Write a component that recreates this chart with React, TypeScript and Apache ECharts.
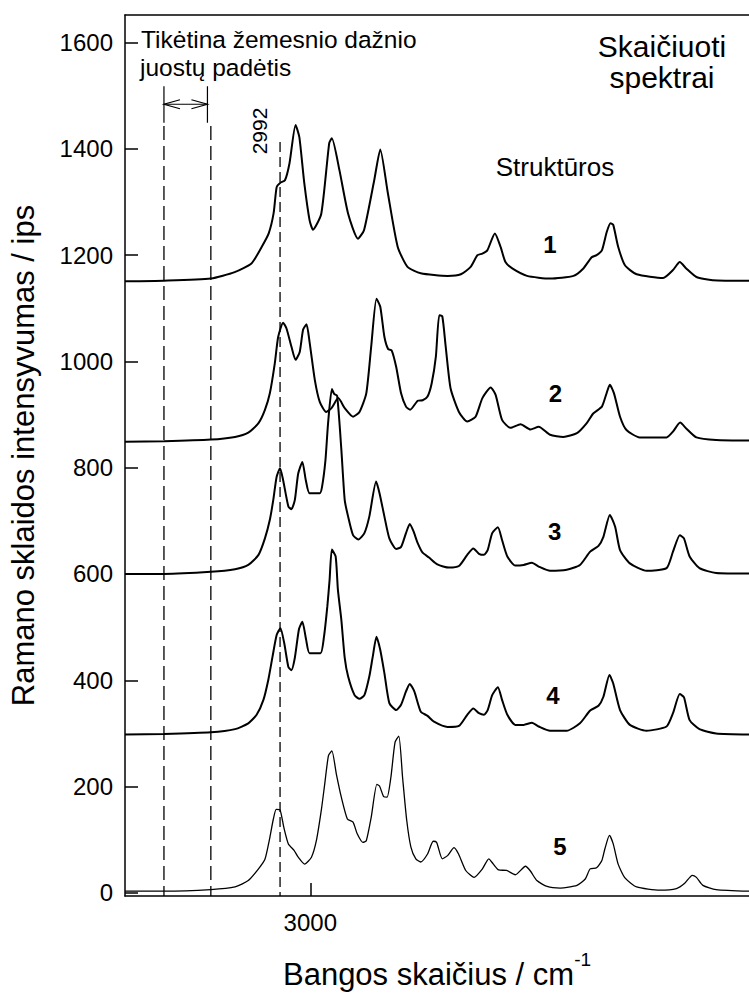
import React, { useEffect, useRef } from "react";
import * as echarts from "echarts";

// Spectra: [wavenumber (cm-1), intensity (ips)]
const spectrum1: [number, number][] = [
  [2951, 1151], [2961.3, 1152], [2973.7, 1156], [2980, 1168], [2984.5, 1185], [2987.1, 1215], [2989, 1241],
  [2990.3, 1279], [2991.1, 1328], [2992, 1336], [2993.3, 1341], [2994.5, 1373], [2996.1, 1445], [2997.1, 1422],
  [2998.4, 1336], [2999.8, 1266], [3000.7, 1248], [3002.9, 1278], [3005, 1411], [3005.7, 1420], [3007.7, 1360],
  [3010, 1278], [3012.6, 1231], [3014.2, 1247], [3016.9, 1341], [3018.5, 1399], [3020.5, 1317], [3023.1, 1216],
  [3025.7, 1178], [3029.2, 1166], [3036.3, 1161], [3039.8, 1164], [3042.4, 1178], [3044.2, 1200], [3045.5, 1203],
  [3046.8, 1209], [3048.8, 1241], [3050.3, 1216], [3051.6, 1187], [3053.4, 1175], [3057.3, 1161], [3063.4, 1156],
  [3069.6, 1161], [3072.2, 1175], [3074.4, 1196], [3075.7, 1200], [3077.1, 1209], [3078.4, 1244], [3079.4, 1260],
  [3080.1, 1257], [3081.4, 1216], [3083.2, 1181], [3086.3, 1164], [3093.3, 1157], [3095.9, 1172], [3097.7, 1187],
  [3099.4, 1175], [3102.1, 1159], [3106.4, 1153], [3116, 1152],
];

const spectrum2: [number, number][] = [
  [2951, 849], [2961.3, 850], [2973.7, 853], [2980.1, 858], [2983.6, 866], [2986.3, 884], [2988, 909], [2989.3, 940],
  [2990.6, 996], [2991.5, 1046], [2992.8, 1073], [2993.7, 1062], [2995, 1028], [2996.1, 1003], [2997.2, 1018],
  [2998.1, 1060], [2999, 1070], [2999.8, 1037], [3001.2, 965], [3002.5, 924], [3004.2, 905], [3005.6, 912],
  [3007.4, 931], [3009.1, 912], [3011.3, 896], [3013, 905], [3014.8, 940], [3016.1, 1028], [3017.5, 1118],
  [3018.5, 1103], [3019.6, 1046], [3020.6, 1023], [3021.5, 1021], [3022.7, 990], [3024, 940], [3025.3, 915],
  [3026.4, 909], [3028.4, 926], [3029.7, 927], [3031, 934], [3032.1, 959], [3033.2, 1009], [3034.1, 1087],
  [3034.9, 1085], [3035.8, 1028], [3037.1, 949], [3039.3, 905], [3041.5, 887], [3043.7, 896], [3045.5, 931],
  [3047.7, 951], [3049, 937], [3050.7, 890], [3052.9, 875], [3055.6, 882], [3058.2, 872], [3060.4, 877],
  [3063.4, 862], [3066.9, 858], [3070.5, 865], [3073.1, 884], [3074.8, 902], [3077.1, 915], [3078.2, 937],
  [3079.2, 956], [3080.3, 940], [3081.9, 896], [3083.6, 871], [3087.1, 857], [3094.2, 857], [3095.9, 868],
  [3097.8, 885], [3099.4, 874], [3102.1, 857], [3107.3, 852], [3116, 851],
];

const spectrum3: [number, number][] = [
  [2951, 600], [2961.3, 600], [2973.7, 604], [2980.1, 609], [2983.6, 617], [2986.3, 636], [2988, 667], [2989.3, 702],
  [2990.2, 739], [2991.1, 783], [2992, 799], [2992.8, 777], [2994.2, 727], [2995, 722], [2995.9, 739], [2996.8, 789],
  [2997.9, 811], [2998.8, 777], [2999.8, 752], [3002.5, 752], [3003.1, 764], [3004, 814], [3004.7, 884],
  [3005.7, 948], [3006.3, 939], [3007.1, 935], [3008.2, 835], [3009.1, 739], [3010, 708], [3011.3, 673],
  [3012.7, 665], [3014.3, 677], [3015.6, 708], [3017.4, 774], [3018.3, 752], [3019.6, 708], [3020.9, 667],
  [3022.7, 647], [3024, 651], [3025.3, 677], [3026.3, 694], [3027.3, 680], [3028.4, 658], [3029.7, 640],
  [3031.4, 631], [3033.6, 618], [3036.7, 612], [3039.3, 615], [3041.5, 636], [3043.1, 648], [3044.6, 638],
  [3045.9, 636], [3046.9, 645], [3048.1, 677], [3049.6, 688], [3050.7, 664], [3052.1, 633], [3054.2, 616],
  [3056.4, 617], [3058.6, 621], [3060.4, 614], [3063.4, 606], [3067.8, 608], [3071.3, 617], [3074, 642],
  [3076.2, 653], [3077.5, 670], [3079.2, 711], [3080.6, 689], [3081.9, 645], [3084.5, 620], [3088.9, 606],
  [3094.2, 611], [3095.9, 642], [3097.7, 673], [3098.8, 667], [3100.3, 633], [3102.9, 611], [3107.3, 602],
  [3116, 601],
];

const spectrum4: [number, number][] = [
  [2951, 298], [2961.3, 299], [2973.7, 302], [2980.1, 308], [2983.6, 319], [2985.8, 335], [2987.6, 363],
  [2988.9, 401], [2990, 444], [2991.1, 485], [2992.1, 498], [2993.1, 470], [2994.2, 425], [2995, 419],
  [2995.9, 442], [2997, 496], [2997.9, 510], [2998.9, 476], [2999.8, 451], [3002.7, 451], [3003.6, 481],
  [3004.5, 539], [3005.1, 589], [3005.7, 646], [3006.7, 633], [3007.3, 570], [3008.2, 514], [3009.1, 442],
  [3010, 407], [3011.7, 372], [3013, 365], [3014.3, 372], [3015.6, 407], [3016.5, 444], [3017.5, 482],
  [3018.5, 457], [3019.6, 413], [3020.9, 357], [3022.7, 344], [3024, 354], [3025.3, 379], [3026.3, 393],
  [3027.5, 379], [3029.2, 341], [3031, 333], [3032.7, 322], [3036.3, 312], [3039.3, 314], [3041.5, 335],
  [3043.1, 347], [3044.6, 338], [3045.9, 335], [3046.9, 344], [3048.1, 372], [3049.6, 387], [3050.7, 363],
  [3052.1, 335], [3054.2, 316], [3056.4, 316], [3058.6, 320], [3060.4, 313], [3063.4, 305], [3067.8, 305],
  [3071.3, 319], [3074, 343], [3076.2, 352], [3077.5, 369], [3079.1, 410], [3080.1, 394], [3081.9, 344],
  [3084.5, 316], [3088.9, 305], [3094.2, 313], [3095.9, 338], [3097.7, 374], [3098.8, 368], [3100.3, 325],
  [3102.9, 308], [3107.3, 300], [3116, 298],
];

const spectrum5: [number, number][] = [
  [2951, 3], [2961.3, 3], [2973.7, 6], [2980.1, 11], [2983.6, 23], [2986.3, 45], [2988, 63], [2989.3, 104],
  [2990.2, 138], [2991, 157], [2992, 156], [2993, 123], [2994.2, 92], [2995.7, 80], [2996.8, 67], [2998.5, 54],
  [3000.3, 67], [3001.6, 98], [3002.9, 155], [3003.8, 204], [3004.8, 258], [3005.7, 267], [3006.9, 223],
  [3008.2, 180], [3009.8, 139], [3011.3, 133], [3012.4, 111], [3013.9, 95], [3014.8, 98], [3016.1, 142],
  [3017.6, 204], [3018.3, 201], [3019.4, 181], [3020.3, 180], [3021.3, 217], [3022.4, 283], [3023.4, 295],
  [3024.4, 217], [3025.5, 136], [3026.6, 86], [3027.9, 64], [3029.2, 58], [3031, 73], [3032.5, 97], [3033.4, 95],
  [3034.9, 64], [3036.3, 70], [3038, 85], [3039.2, 73], [3041.1, 42], [3043.3, 29], [3045.5, 45], [3047.2, 64],
  [3048.4, 54], [3049.8, 43], [3051.9, 42], [3054.2, 34], [3056.9, 50], [3058.2, 41], [3059.9, 23], [3062.6, 12],
  [3066.1, 9], [3070.5, 14], [3072.7, 26], [3074, 45], [3075.7, 47], [3077.1, 61], [3077.9, 83], [3079.1, 108],
  [3080.1, 92], [3081.4, 54], [3083.2, 28], [3086.3, 11], [3092.4, 5], [3096.8, 8], [3099, 18], [3101, 33],
  [3102.1, 29], [3103.8, 14], [3107.3, 6], [3116, 3],
];

const structureNames = ["1", "2", "3", "4", "5"];
const yTickValues = [0, 200, 400, 600, 800, 1000, 1200, 1400, 1600];
const xTickValues = [3000];

// annotation positions in data units
const bandLeft = 2961.3;
const bandRightSolid = 2972.8;
const bandRightDashed = 2973.7;
const bandTop = 1518;
const bandSolidBottom = 1449;
const bandArrowLevel = 1484;
const marker2992 = 2992;
const marker2992Top = 1413;

const X_MIN = 2951;
const X_MAX = 3116;
const Y_MIN = -6;
const Y_MAX = 1652;

const FONT = '"Liberation Sans", Arial, Helvetica, sans-serif';
const BLACK = "#000";

export default function App() {
  const ref = useRef<HTMLDivElement>(null);

  useEffect(() => {
    document.body.style.margin = "0";
    const chart = echarts.init(ref.current!, null, { renderer: "svg" });

    const spectrumSeries = (name: string, data: [number, number][], width: number) => ({
      name,
      type: "line",
      data,
      symbol: "none",
      showSymbol: false,
      smooth: 0.2,
      lineStyle: { color: BLACK, width },
      silent: true,
      z: 3,
    });
    const vSeg = (x: number, y0: number, y1: number, type: any, width: number) => ({
      type: "line",
      data: [[x, y0], [x, y1]],
      symbol: "none",
      showSymbol: false,
      lineStyle: { color: BLACK, width, type },
      silent: true,
      z: 2,
    });

    const axisLineStyle = { color: BLACK, width: 1.5 };
    const plain = (v: number) => String(v);

    chart.setOption({
      animation: false,
      backgroundColor: "#fff",
      grid: { left: 122, right: 0, top: 15, bottom: 96 },
      xAxis: [
        {
          type: "value",
          min: X_MIN,
          max: X_MAX,
          position: "bottom",
          axisLine: { show: true, onZero: false, lineStyle: axisLineStyle },
          axisTick: { show: true, inside: true, length: 13, customValues: xTickValues, lineStyle: axisLineStyle },
          axisLabel: { customValues: xTickValues, formatter: plain, margin: 14, color: BLACK, fontSize: 24, fontFamily: FONT },
          splitLine: { show: false },
          name: "{base|Bangos skaičius / cm}{sup|-1}",
          nameLocation: "middle",
          nameGap: 54,
          nameTextStyle: {
            color: BLACK,
            fontFamily: FONT,
            fontSize: 31,
            rich: {
              base: { fontSize: 31, fontFamily: FONT, color: BLACK, lineHeight: 40, verticalAlign: "bottom" },
              sup: { fontSize: 19, fontFamily: FONT, color: BLACK, lineHeight: 19, verticalAlign: "top" },
            },
          },
        },
        {
          type: "value",
          min: X_MIN,
          max: X_MAX,
          position: "top",
          axisLine: { show: true, onZero: false, lineStyle: axisLineStyle },
          axisTick: { show: false },
          axisLabel: { show: false },
          splitLine: { show: false },
        },
      ],
      yAxis: {
        type: "value",
        min: Y_MIN,
        max: Y_MAX,
        axisLine: { show: true, onZero: false, lineStyle: axisLineStyle },
        axisTick: { show: true, inside: true, length: 13, customValues: yTickValues, lineStyle: axisLineStyle },
        axisLabel: { customValues: yTickValues, formatter: plain, margin: 12, color: BLACK, fontSize: 24, fontFamily: FONT },
        splitLine: { show: false },
        name: "Ramano sklaidos intensyvumas / ips",
        nameLocation: "middle",
        nameRotate: 90,
        nameGap: 86,
        nameTextStyle: { color: BLACK, fontSize: 31, fontFamily: FONT, lineHeight: 31 },
      },
      series: [
        spectrumSeries(structureNames[0], spectrum1, 2),
        spectrumSeries(structureNames[1], spectrum2, 2),
        spectrumSeries(structureNames[2], spectrum3, 2),
        spectrumSeries(structureNames[3], spectrum4, 2),
        spectrumSeries(structureNames[4], spectrum5, 1.3),
        vSeg(bandLeft, bandTop, bandSolidBottom, "solid", 1.2),
        vSeg(bandRightSolid, bandTop, bandSolidBottom, "solid", 1.2),
        vSeg(bandLeft, bandSolidBottom - 6, Y_MIN, [14, 6], 1.3),
        vSeg(bandRightDashed, bandSolidBottom - 6, Y_MIN, [14, 6], 1.3),
        vSeg(marker2992, marker2992Top, Y_MIN, [10, 5], 1.3),
      ],
    });

    const p = (x: number, y: number) => chart.convertToPixel({ gridIndex: 0 }, [x, y]) as number[];
    const aL = p(bandLeft, bandArrowLevel);
    const aR = p(bandRightSolid, bandArrowLevel);
    const head = 16;
    const half = 4.5;
    const arrowStyle = { stroke: BLACK, lineWidth: 1.2, fill: "none" };

    const txt = (text: string, x: number, y: number, font: string, align: string = "center", rotation = 0) => ({
      type: "text",
      x,
      y,
      rotation,
      silent: true,
      style: { text, font, fill: BLACK, textAlign: align, textVerticalAlign: "middle" },
    });

    const labelPx: [number, number][] = [
      [550, 244],
      [555.5, 393],
      [554.7, 531.5],
      [553, 695],
      [560, 846.7],
    ];

    chart.setOption({
      graphic: [
        { type: "line", silent: true, shape: { x1: aL[0], y1: aL[1], x2: aR[0], y2: aR[1] }, style: arrowStyle },
        {
          type: "polyline",
          silent: true,
          shape: { points: [[aL[0] + head, aL[1] - half], [aL[0], aL[1]], [aL[0] + head, aL[1] + half]] },
          style: arrowStyle,
        },
        {
          type: "polyline",
          silent: true,
          shape: { points: [[aR[0] - head, aR[1] - half], [aR[0], aR[1]], [aR[0] - head, aR[1] + half]] },
          style: arrowStyle,
        },
        txt("Tikėtina žemesnio dažnio", 141, 39, `24.5px ${FONT}`, "left"),
        txt("juostų padėtis", 140, 67, `24.5px ${FONT}`, "left"),
        txt("Skaičiuoti", 662, 46, `30px ${FONT}`),
        txt("spektrai", 662, 77, `30px ${FONT}`),
        txt("Struktūros", 555, 167, `26px ${FONT}`),
        txt("2992", 259, 131, `21px ${FONT}`, "center", Math.PI / 2),
        ...structureNames.map((n, i) => txt(n, labelPx[i][0], labelPx[i][1], `bold 24px ${FONT}`)),
      ],
    });

    return () => chart.dispose();
  }, []);

  return <div ref={ref} style={{ width: 749, height: 995 }} />;
}
